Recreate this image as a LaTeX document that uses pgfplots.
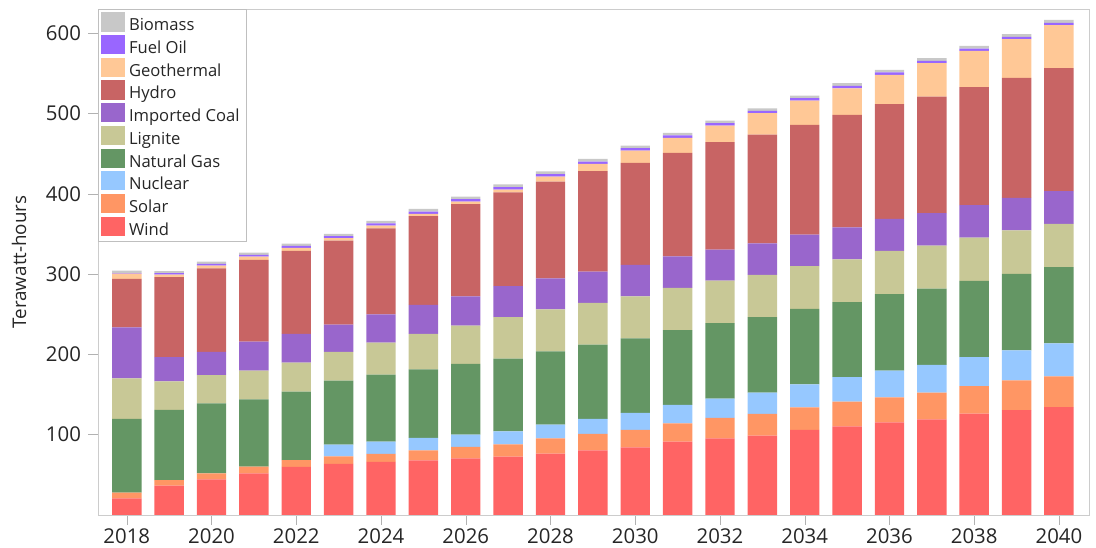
\documentclass[border=0pt]{standalone}
\usepackage{fontspec}
\setmainfont{Open Sans}
\usepackage{pgfplots}
\usepackage{pgfplotstable}
\pgfplotsset{compat=1.18}
\usetikzlibrary{calc}

\definecolor{cBiomass}{HTML}{C8C8C8}
\definecolor{cFuelOil}{HTML}{9966FF}
\definecolor{cGeo}{HTML}{FFC896}
\definecolor{cHydro}{HTML}{C86464}
\definecolor{cImpCoal}{HTML}{9966CC}
\definecolor{cLignite}{HTML}{C8C896}
\definecolor{cGas}{HTML}{649664}
\definecolor{cNuclear}{HTML}{96C8FF}
\definecolor{cSolar}{HTML}{FF9664}
\definecolor{cWind}{HTML}{FF6464}

\pgfplotstableread{
year W S N G L IC H Geo FO B
2018 20.8 7.2 0 91.7 50.5 63.5 60.4 6.5 0.5 3.3
2019 36.5 7.0 0 87.5 35.4 30.2 99.7 2.9 1.8 2.5
2020 44.4 7.5 0 87.2 34.9 29.0 104.2 3.3 2.3 2.5
2021 51.9 8.3 0 83.8 35.7 36.1 101.8 4.1 2.3 2.7
2022 59.8 8.5 0 85.2 36.2 35.9 103.2 3.7 2.6 2.8
2023 63.5 9.5 14.6 79.7 35.7 34.0 104.6 3.0 2.6 2.8
2024 66.0 10.2 15.0 83.5 39.9 35.2 107.2 3.3 2.8 3.2
2025 68.1 12.4 15.4 85.5 44.0 36.3 110.3 2.8 3.0 3.2
2026 70.6 14.1 15.3 88.0 47.8 36.5 114.6 3.3 3.0 3.2
2027 72.6 15.4 16.2 90.5 51.5 38.6 117.0 3.3 3.0 3.6
2028 76.4 19.1 17.0 91.3 52.3 38.6 120.4 6.2 3.0 3.5
2029 80.5 20.4 18.7 92.5 52.1 38.8 125.0 9.1 3.0 3.4
2030 84.3 21.8 21.1 92.8 52.3 39.0 127.1 15.3 3.0 3.2
2031 91.3 22.9 22.8 93.2 52.5 39.4 128.7 18.7 3.0 3.2
2032 95.5 25.3 24.0 94.1 52.9 38.6 133.7 20.7 3.0 3.2
2033 98.8 27.0 26.5 93.9 52.7 39.4 135.3 26.6 3.0 3.2
2034 105.9 28.2 28.6 93.8 53.2 39.4 136.6 30.3 3.0 3.2
2035 110.4 30.7 30.4 93.4 53.5 39.8 139.9 33.2 3.0 3.3
2036 115.4 31.1 33.2 95.2 53.9 39.8 142.9 36.5 3.0 3.2
2037 119.0 33.2 34.7 94.9 53.6 40.3 145.2 41.6 3.0 3.4
2038 126.2 34.2 36.3 94.7 53.9 40.4 146.9 45.2 3.0 3.3
2039 130.5 37.2 37.3 95.1 54.4 40.3 149.5 48.1 3.0 3.4
2040 134.3 38.4 41.1 94.7 53.9 40.7 153.2 53.5 2.8 3.8
}\data

\begin{document}
\begin{tikzpicture}
\begin{axis}[
  name=ax,
  scale only axis, width=495.5pt, height=253pt,
  ybar stacked, bar width=14.7pt,
  xmin=2017.32, xmax=2040.71, ymin=0, ymax=630,
  xtick={2018,2020,...,2040}, ytick={100,200,...,600},
  /pgf/number format/1000 sep={},
  /pgf/number format/assume math mode=true,
  tick label style={font=\fontsize{10.2}{12}\selectfont, text=black!85},
  xticklabel style={yshift=1.6pt},
  axis line style={draw=black!20},
  tick style={draw=black!30}, tick align=outside, major tick length=5pt,
  tick pos=left,
  ylabel={Terawatt-hours},
  every axis y label/.style={at={(axis description cs:-0.0797,0.5)}, rotate=90, anchor=center, font=\fontsize{9.4}{11}\selectfont, text=black!85},
  reverse legend,
  legend image code/.code={\fill[#1] (0pt,-2.6pt) rectangle (11.8pt,7.0pt);},
  legend style={at={(0,1)}, anchor=north west, draw=black!25, font=\fontsize{8.3}{9}\selectfont,
    inner xsep=1.5pt, inner ysep=1.5pt, row sep=0.3pt, cells={anchor=west},
    nodes={text height=6.3pt, text depth=1.8pt, inner ysep=0pt, text=black!85}},
]
\addplot[fill=cWind, draw=none] table[x=year, y=W] {\data};
\addplot[fill=cSolar, draw=none] table[x=year, y=S] {\data};
\addplot[fill=cNuclear, draw=none] table[x=year, y=N] {\data};
\addplot[fill=cGas, draw=none] table[x=year, y=G] {\data};
\addplot[fill=cLignite, draw=none] table[x=year, y=L] {\data};
\addplot[fill=cImpCoal, draw=none] table[x=year, y=IC] {\data};
\addplot[fill=cHydro, draw=none] table[x=year, y=H] {\data};
\addplot[fill=cGeo, draw=none] table[x=year, y=Geo] {\data};
\addplot[fill=cFuelOil, draw=none] table[x=year, y=FO] {\data};
\addplot[fill=cBiomass, draw=none] table[x=year, y=B] {\data};
\legend{Wind, Solar, Nuclear, Natural Gas, Lignite, Imported Coal\hspace{1.5pt}, Hydro, Geothermal, Fuel Oil, Biomass}
\end{axis}
\pgfresetboundingbox
\path ($(ax.south west)+(-49pt,-16.5pt)$) rectangle ($(ax.north east)+(3.5pt,4.5pt)$);
\end{tikzpicture}
\end{document}
